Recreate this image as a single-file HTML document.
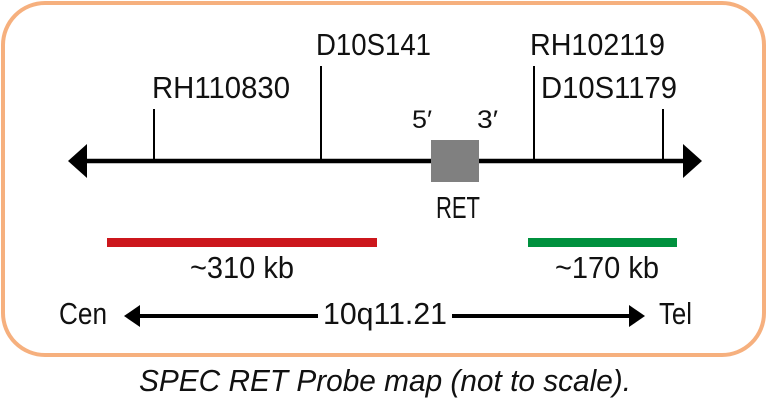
<!DOCTYPE html>
<html><head><meta charset="utf-8"><style>
html,body{margin:0;padding:0;background:#fff;width:768px;height:402px;overflow:hidden}
text{font-family:"Liberation Sans",sans-serif;fill:#111}
</style></head><body>
<svg width="768" height="402" viewBox="0 0 768 402" xmlns="http://www.w3.org/2000/svg">
<rect x="3" y="3" width="761" height="352" rx="42" ry="42" fill="#fff" stroke="#f6b07e" stroke-width="4"/>
<line x1="80" y1="161" x2="690" y2="161" stroke="#000" stroke-width="4.5"/>
<polygon points="68,161 87,144 87,178" fill="#000"/>
<polygon points="702,161 683,144 683,178" fill="#000"/>
<g stroke="#000" stroke-width="2">
<line x1="154" y1="109" x2="154" y2="161"/>
<line x1="321" y1="66" x2="321" y2="161"/>
<line x1="534" y1="66" x2="534" y2="161"/>
<line x1="663" y1="109" x2="663" y2="161"/>
</g>
<rect x="431" y="140" width="48" height="42" fill="#808080"/>
<g font-size="31">
<text x="152" y="98" textLength="138" lengthAdjust="spacingAndGlyphs">RH110830</text>
<text x="316" y="55" textLength="115" lengthAdjust="spacingAndGlyphs">D10S141</text>
<text x="530" y="55" textLength="135" lengthAdjust="spacingAndGlyphs">RH102119</text>
<text x="541" y="98" textLength="136" lengthAdjust="spacingAndGlyphs">D10S1179</text>
<text x="436" y="218" textLength="44" lengthAdjust="spacingAndGlyphs">RET</text>
<text x="190" y="278" textLength="104" lengthAdjust="spacingAndGlyphs">~310 kb</text>
<text x="555" y="278" textLength="104" lengthAdjust="spacingAndGlyphs">~170 kb</text>
<text x="59" y="324" textLength="48" lengthAdjust="spacingAndGlyphs">Cen</text>
<text x="323" y="324" textLength="124" lengthAdjust="spacingAndGlyphs">10q11.21</text>
<text x="659" y="324" textLength="33" lengthAdjust="spacingAndGlyphs">Tel</text>
</g>
<g font-size="25">
<text x="412" y="128" textLength="20" lengthAdjust="spacingAndGlyphs">5′</text>
<text x="477" y="128" textLength="21" lengthAdjust="spacingAndGlyphs">3′</text>
</g>
<rect x="107" y="238" width="270" height="9" fill="#cc171c"/>
<rect x="528" y="238" width="149" height="9" fill="#00913e"/>
<line x1="134" y1="316" x2="318" y2="316" stroke="#000" stroke-width="4"/>
<polygon points="124,316 140,305 140,327" fill="#000"/>
<line x1="452" y1="316" x2="634" y2="316" stroke="#000" stroke-width="4"/>
<polygon points="645,316 629,305 629,327" fill="#000"/>
<text x="139" y="391" font-size="31" font-style="italic" textLength="492" lengthAdjust="spacingAndGlyphs">SPEC RET Probe map (not to scale).</text>
</svg>
</body></html>
